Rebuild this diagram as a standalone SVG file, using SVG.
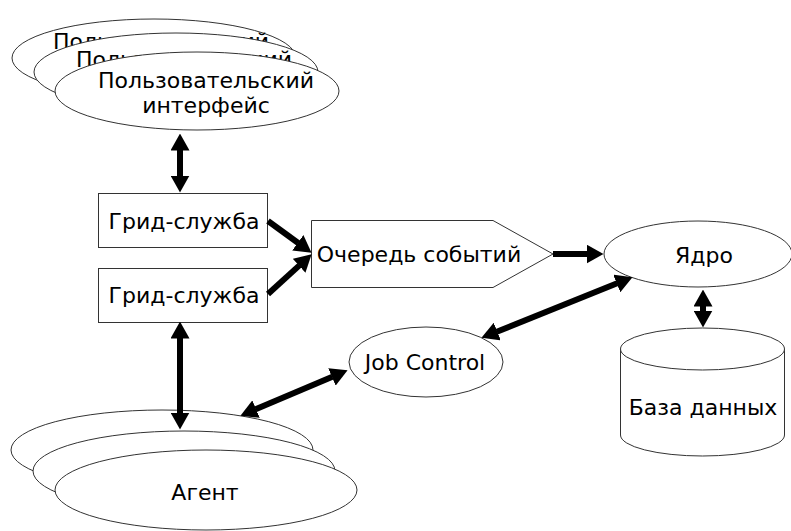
<svg xmlns="http://www.w3.org/2000/svg" width="791" height="531" viewBox="0 0 791 531">
<style>
.s{fill:#fff;stroke:#333;stroke-width:1}
.t{font-family:"DejaVu Sans",Verdana,sans-serif;font-size:22px;fill:#000;text-anchor:middle}
.c{stroke:#000;stroke-width:6;fill:none}
</style>
<defs>
<marker id="ah" viewBox="0 0 17 19" refX="0.5" refY="9.5" markerWidth="17" markerHeight="19" markerUnits="userSpaceOnUse" orient="auto-start-reverse">
<path d="M0,0 L17,9.5 L0,19 z" fill="#000"/>
</marker>
</defs>
<rect width="791" height="531" fill="#fff"/>
<g id="ui">
<ellipse class="s" cx="154" cy="58" rx="142" ry="39"/>
<text class="t" x="161" y="49">Пользовательский</text>
<ellipse class="s" cx="176" cy="72" rx="142" ry="39"/>
<text class="t" x="184" y="67">Пользовательский</text>
<ellipse class="s" cx="197" cy="91" rx="142" ry="39"/>
<text class="t" x="206" y="88">Пользовательский</text>
<text class="t" x="206" y="113">интерфейс</text>
</g>
<g id="grid1">
<rect class="s" x="98.5" y="193.5" width="169" height="54"/>
<text class="t" x="184" y="229">Грид-служба</text>
</g>
<g id="grid2">
<rect class="s" x="98.5" y="268.5" width="169" height="54"/>
<text class="t" x="184" y="303">Грид-служба</text>
</g>
<g id="queue">
<polygon class="s" points="311.5,220.5 493,220.5 553,254 493,287.5 311.5,287.5"/>
<text class="t" x="419" y="262">Очередь событий</text>
</g>
<g id="core">
<ellipse class="s" cx="698" cy="254" rx="94" ry="33"/>
<text class="t" x="704" y="263">Ядро</text>
</g>
<g id="db">
<path class="s" d="M620.5,349 L620.5,435 A82,21 0 0 0 784.5,435 L784.5,349"/>
<ellipse class="s" cx="702.5" cy="349" rx="82" ry="21"/>
<text class="t" x="703" y="415">База данных</text>
</g>
<g id="job">
<ellipse class="s" cx="426" cy="362" rx="77" ry="35"/>
<text class="t" x="425" y="370">Job Control</text>
</g>
<g id="agent">
<ellipse class="s" cx="162" cy="450" rx="151" ry="40"/>
<ellipse class="s" cx="184" cy="471" rx="151" ry="40"/>
<ellipse class="s" cx="206" cy="490" rx="151" ry="40"/>
<text class="t" x="205" y="500">Агент</text>
</g>
<g id="connectors">
<line class="c" x1="180" y1="150" x2="180" y2="176" marker-start="url(#ah)" marker-end="url(#ah)"/>
<line class="c" x1="268" y1="221" x2="298.2" y2="243" marker-end="url(#ah)"/>
<line class="c" x1="268" y1="294" x2="299.4" y2="265.4" marker-end="url(#ah)"/>
<line class="c" x1="553" y1="254" x2="587" y2="254" marker-end="url(#ah)"/>
<line class="c" x1="496.8" y1="331.7" x2="617.2" y2="283.3" marker-start="url(#ah)" marker-end="url(#ah)"/>
<line class="c" x1="703" y1="306" x2="703" y2="311" marker-start="url(#ah)" marker-end="url(#ah)"/>
<line class="c" x1="180" y1="338" x2="180" y2="413" marker-start="url(#ah)" marker-end="url(#ah)"/>
<line class="c" x1="255.6" y1="409.3" x2="332.4" y2="376.7" marker-start="url(#ah)" marker-end="url(#ah)"/>
</g>
</svg>
